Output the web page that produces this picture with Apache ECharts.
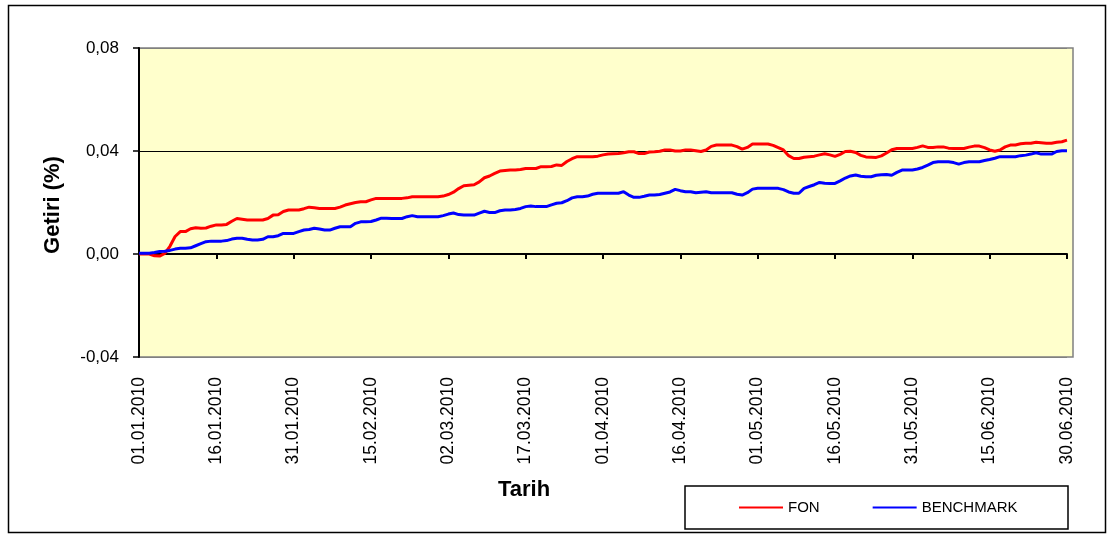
<!DOCTYPE html>
<html>
<head>
<meta charset="utf-8">
<script src="https://cdn.jsdelivr.net/npm/echarts@6/dist/echarts.min.js"></script>
<style>
html,body{margin:0;padding:0;background:#fff;}
#chart{width:1113px;height:536px;}
</style>
</head>
<body>
<div id="chart"></div>
<script>
// Categories: every calendar day 01.01.2010 - 30.06.2010
function buildDates() {
  var out = [];
  var d = new Date(Date.UTC(2010, 0, 1));
  var end = new Date(Date.UTC(2010, 5, 30));
  while (d <= end) {
    var dd = String(d.getUTCDate()).padStart(2, '0');
    var mm = String(d.getUTCMonth() + 1).padStart(2, '0');
    out.push(dd + '.' + mm + '.' + d.getUTCFullYear());
    d = new Date(d.getTime() + 86400000);
  }
  return out;
}
var dates = buildDates();

var fon = [
  0.0000, 0.0000, 0.0000, -0.0007, -0.0008, 0.0002, 0.0030, 0.0068, 0.0087, 0.0087,
  0.0098, 0.0102, 0.0100, 0.0101, 0.0108, 0.0113, 0.0113, 0.0115, 0.0127, 0.0138,
  0.0135, 0.0132, 0.0132, 0.0132, 0.0132, 0.0138, 0.0151, 0.0152, 0.0165, 0.0171,
  0.0171, 0.0171, 0.0176, 0.0182, 0.0180, 0.0177, 0.0177, 0.0177, 0.0177, 0.0182,
  0.0190, 0.0195, 0.0200, 0.0203, 0.0203, 0.0210, 0.0216, 0.0216, 0.0216, 0.0216,
  0.0216, 0.0216, 0.0218, 0.0222, 0.0222, 0.0222, 0.0222, 0.0222, 0.0222, 0.0225,
  0.0231, 0.0240, 0.0254, 0.0265, 0.0267, 0.0269, 0.0280, 0.0296, 0.0303, 0.0313,
  0.0322, 0.0324, 0.0326, 0.0326, 0.0328, 0.0332, 0.0332, 0.0332, 0.0339, 0.0339,
  0.0340, 0.0346, 0.0344, 0.0359, 0.0370, 0.0378, 0.0378, 0.0378, 0.0378, 0.0380,
  0.0385, 0.0388, 0.0389, 0.0390, 0.0393, 0.0397, 0.0397, 0.0390, 0.0390, 0.0396,
  0.0397, 0.0399, 0.0404, 0.0404, 0.0400, 0.0400, 0.0404, 0.0404, 0.0401, 0.0398,
  0.0404, 0.0418, 0.0423, 0.0423, 0.0423, 0.0423, 0.0417, 0.0407, 0.0414, 0.0427,
  0.0427, 0.0427, 0.0427, 0.0422, 0.0413, 0.0404, 0.0382, 0.0371, 0.0371, 0.0376,
  0.0378, 0.0380, 0.0385, 0.0389, 0.0385, 0.0379, 0.0387, 0.0398, 0.0399, 0.0394,
  0.0383, 0.0377, 0.0376, 0.0375, 0.0381, 0.0392, 0.0405, 0.0410, 0.0410, 0.0410,
  0.0410, 0.0414, 0.0420, 0.0414, 0.0414, 0.0416, 0.0416, 0.0411, 0.0410, 0.0410,
  0.0410, 0.0415, 0.0419, 0.0419, 0.0413, 0.0404, 0.0399, 0.0404, 0.0416, 0.0423,
  0.0423, 0.0428, 0.0430, 0.0430, 0.0434, 0.0432, 0.0430, 0.0430, 0.0434, 0.0436,
  0.0442
];

var benchmark = [
  0.0003, 0.0003, 0.0003, 0.0006, 0.0010, 0.0011, 0.0014, 0.0019, 0.0022, 0.0022,
  0.0024, 0.0032, 0.0040, 0.0048, 0.0050, 0.0050, 0.0050, 0.0052, 0.0058, 0.0061,
  0.0061, 0.0057, 0.0054, 0.0054, 0.0057, 0.0067, 0.0067, 0.0071, 0.0080, 0.0080,
  0.0080, 0.0087, 0.0093, 0.0095, 0.0100, 0.0097, 0.0093, 0.0093, 0.0100, 0.0106,
  0.0106, 0.0106, 0.0119, 0.0125, 0.0125, 0.0126, 0.0132, 0.0139, 0.0139, 0.0138,
  0.0138, 0.0138, 0.0145, 0.0149, 0.0145, 0.0145, 0.0145, 0.0145, 0.0145, 0.0149,
  0.0155, 0.0159, 0.0153, 0.0151, 0.0151, 0.0151, 0.0159, 0.0166, 0.0161, 0.0161,
  0.0168, 0.0171, 0.0171, 0.0173, 0.0177, 0.0184, 0.0186, 0.0184, 0.0184, 0.0184,
  0.0191, 0.0197, 0.0199, 0.0207, 0.0218, 0.0222, 0.0222, 0.0225, 0.0232, 0.0236,
  0.0236, 0.0236, 0.0236, 0.0236, 0.0242, 0.0229, 0.0220, 0.0220, 0.0224, 0.0229,
  0.0229, 0.0231, 0.0236, 0.0241, 0.0251, 0.0246, 0.0242, 0.0242, 0.0238, 0.0240,
  0.0242, 0.0238, 0.0238, 0.0238, 0.0238, 0.0238, 0.0232, 0.0229, 0.0238, 0.0252,
  0.0255, 0.0255, 0.0255, 0.0255, 0.0255, 0.0250, 0.0241, 0.0236, 0.0236, 0.0255,
  0.0262, 0.0269, 0.0278, 0.0275, 0.0274, 0.0274, 0.0284, 0.0295, 0.0303, 0.0307,
  0.0302, 0.0300, 0.0300, 0.0306, 0.0308, 0.0309, 0.0306, 0.0317, 0.0326, 0.0326,
  0.0326, 0.0330, 0.0336, 0.0345, 0.0355, 0.0358, 0.0358, 0.0358, 0.0355, 0.0349,
  0.0355, 0.0358, 0.0358, 0.0358, 0.0363, 0.0367, 0.0372, 0.0378, 0.0378, 0.0378,
  0.0378, 0.0382, 0.0384, 0.0388, 0.0393, 0.0388, 0.0388, 0.0388, 0.0398, 0.0401,
  0.0401
];

var seriesNames = ['FON', 'BENCHMARK'];
var yTicks = [-0.04, 0.00, 0.04, 0.08];
var xTitle = 'Tarih';
var yTitle = 'Getiri (%)';

var FONT = '"Liberation Sans", Arial, sans-serif';
var chart = echarts.init(document.getElementById('chart'), null, {renderer: 'canvas'});

var gridLeft = 139, gridTop = 48, gridW = 928, gridH = 309;

chart.setOption({
  animation: false,
  backgroundColor: '#ffffff',
  textStyle: {fontFamily: FONT},
  grid: {left: gridLeft, top: gridTop, width: gridW, height: gridH, containLabel: false},
  graphic: [
    {type: 'rect', z: -10, shape: {x: 8.5, y: 5.5, width: 1097, height: 527},
     style: {fill: '#ffffff', stroke: '#000000', lineWidth: 1.5}},
    {type: 'rect', z: -5, shape: {x: gridLeft, y: gridTop, width: 934, height: gridH},
     style: {fill: '#FFFFCC', stroke: '#808080', lineWidth: 1.5}},
    {type: 'rect', z: -5, shape: {x: 685, y: 486, width: 383, height: 43},
     style: {fill: '#ffffff', stroke: '#000000', lineWidth: 1.5}},
    {type: 'text', z: 10, x: 53, y: 205, rotation: Math.PI / 2,
     style: {text: yTitle, font: 'bold 22px ' + FONT, fill: '#000', align: 'center', verticalAlign: 'middle'}},
    {type: 'text', z: 10, x: 524, y: 490,
     style: {text: xTitle, font: 'bold 22px ' + FONT, fill: '#000', align: 'center', verticalAlign: 'middle'}}
  ],
  legend: {
    data: seriesNames,
    left: 739, top: 500,
    icon: 'rect', itemWidth: 44, itemHeight: 2, itemGap: 53,
    textStyle: {fontSize: 15, color: '#000', fontFamily: FONT},
    padding: 0
  },
  xAxis: [
    {
      type: 'category', data: dates, boundaryGap: false, position: 'bottom',
      axisLine: {show: true, onZero: true, lineStyle: {color: '#000', width: 2}},
      axisTick: {show: true, interval: 14, length: 5, lineStyle: {color: '#000', width: 2}},
      axisLabel: {show: false},
      splitLine: {show: false}
    },
    {
      type: 'category', data: dates, boundaryGap: false, position: 'bottom',
      axisLine: {show: false, onZero: false},
      axisTick: {show: false},
      axisLabel: {show: true, interval: 14, rotate: 90, margin: 20, fontSize: 17.5, color: '#000', fontFamily: FONT},
      splitLine: {show: false}
    }
  ],
  yAxis: {
    type: 'value', min: yTicks[0], max: yTicks[yTicks.length - 1], interval: 0.04,
    axisLine: {show: true, lineStyle: {color: '#000', width: 2}},
    axisTick: {show: true, length: 6, lineStyle: {color: '#000', width: 1.5}},
    axisLabel: {
      margin: 20, fontSize: 17, color: '#000', fontFamily: FONT,
      formatter: function (v) { return v.toFixed(2).replace('.', ','); }
    },
    splitLine: {show: true, lineStyle: {color: ['#808080', '#000000', '#000000', '#808080'], width: 1}}
  },
  series: [
    {name: seriesNames[0], type: 'line', data: fon, xAxisIndex: 0, symbol: 'none', z: 3,
     lineStyle: {color: '#FF0000', width: 3}, itemStyle: {color: '#FF0000'}},
    {name: seriesNames[1], type: 'line', data: benchmark, xAxisIndex: 0, symbol: 'none', z: 4,
     lineStyle: {color: '#0000FF', width: 3}, itemStyle: {color: '#0000FF'}}
  ]
});
</script>
</body>
</html>
